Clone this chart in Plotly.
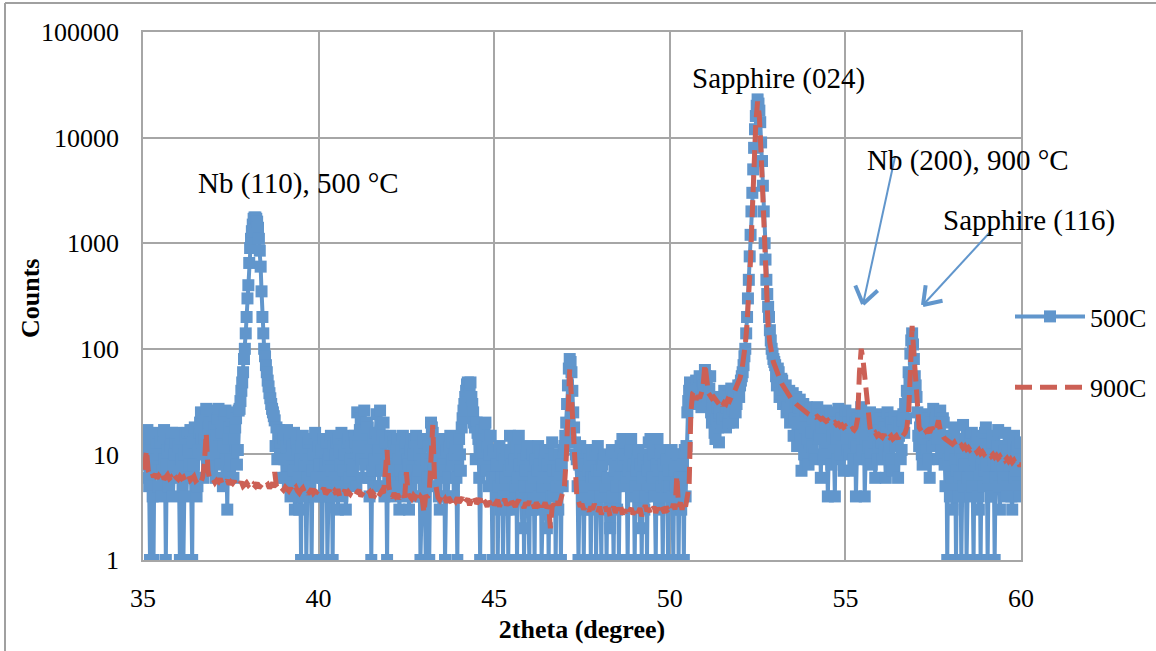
import numpy as np
import plotly.graph_objects as go

# 500C scan: 2theta 35.000 .. 60.000 in 0.025 degree steps
theta_500C = [round(35 + 0.025 * i, 3) for i in range(1001)]
# 900C scan: 2theta 35.00 .. 60.00 in 0.05 degree steps
theta_900C = [round(35 + 0.05 * i, 2) for i in range(501)]

counts_500C = [
    # 35
    8, 12, 15, 6, 12, 17, 10, 5, 1, 9, 14, 4, 1, 11, 9, 13, 16, 7, 5, 10,
    13, 4, 7, 15, 17, 9, 1, 8, 11, 5, 6, 12, 14, 16, 4, 8, 10, 13, 16, 6,
    # 36
    12, 7, 1, 14, 9, 5, 1, 10, 15, 4, 6, 16, 11, 8, 17, 6, 1, 13, 8, 18,
    13, 4, 5, 11, 16, 20, 25, 14, 10, 6, 14, 24, 27, 12, 7, 18, 20, 8, 12, 26,
    # 37
    10, 18, 24, 6, 15, 22, 27, 12, 8, 16, 20, 5, 12, 24, 26, 9, 3, 14, 18, 7,
    9, 21, 25, 6, 14, 18, 22, 8, 11, 26, 27, 32, 40, 48, 60, 80, 100, 140, 200, 300,
    # 38
    400, 650, 900, 1100, 1300, 1500, 1700, 1750, 1750, 1700, 1600, 1400, 1100, 850, 600, 350, 200, 140, 100, 85,
    70, 60, 50, 44, 38, 34, 30, 27, 25, 23, 21, 12, 18, 9, 15, 17, 10, 13, 16, 6,
    # 39
    14, 9, 6, 12, 17, 5, 9, 14, 4, 10, 12, 7, 16, 3, 7, 13, 11, 6, 3, 9,
    1, 12, 15, 4, 8, 10, 1, 6, 13, 9, 5, 14, 1, 7, 10, 4, 16, 11, 6, 13,
    # 40
    12, 8, 4, 11, 1, 6, 14, 5, 8, 13, 1, 9, 10, 4, 15, 7, 1, 12, 6, 10,
    13, 5, 3, 14, 11, 8, 16, 4, 7, 10, 12, 3, 5, 13, 14, 6, 9, 12, 15, 7,
    # 41
    8, 15, 13, 5, 25, 12, 10, 17, 22, 9, 6, 15, 26, 8, 12, 20, 18, 6, 4, 11,
    1, 7, 14, 5, 9, 16, 24, 13, 11, 5, 26, 9, 7, 15, 20, 4, 13, 8, 1, 10,
    # 42
    10, 6, 15, 8, 4, 13, 12, 5, 7, 11, 14, 9, 3, 7, 11, 14, 15, 4, 6, 12,
    13, 9, 8, 3, 5, 11, 14, 7, 10, 13, 4, 15, 12, 6, 7, 10, 1, 4, 9, 14,
    # 43
    13, 5, 1, 9, 6, 12, 1, 8, 20, 18, 16, 7, 12, 14, 5, 9, 10, 4, 3, 12,
    14, 6, 8, 13, 1, 7, 11, 4, 6, 12, 15, 8, 9, 13, 4, 10, 12, 6, 1, 9,
    # 44
    14, 10, 7, 18, 22, 26, 30, 35, 40, 46, 48, 44, 45, 48, 35, 30, 25, 20, 18, 9,
    20, 16, 14, 6, 1, 10, 17, 12, 8, 18, 20, 7, 12, 15, 5, 10, 15, 6, 1, 11,
    # 45
    10, 6, 4, 8, 1, 5, 12, 3, 6, 10, 1, 4, 9, 6, 3, 11, 1, 7, 15, 10,
    8, 3, 14, 9, 5, 12, 1, 6, 15, 8, 11, 4, 2, 9, 1, 5, 7, 10, 12, 3,
    # 46
    1, 8, 5, 3, 10, 6, 1, 9, 3, 7, 12, 4, 8, 11, 1, 5, 6, 9, 11, 3,
    2, 8, 1, 6, 9, 4, 13, 7, 4, 10, 1, 5, 7, 3, 10, 6, 1, 8, 5, 11,
    # 47
    12, 15, 20, 30, 45, 65, 80, 75, 60, 40, 25, 18, 13, 10, 9, 5, 1, 8, 12, 6,
    4, 9, 1, 5, 8, 3, 11, 7, 3, 9, 1, 6, 10, 4, 6, 11, 1, 7, 12, 4,
    # 48
    7, 4, 1, 8, 4, 9, 10, 5, 1, 6, 6, 3, 2, 9, 11, 4, 1, 7, 8, 5,
    3, 10, 1, 6, 12, 8, 14, 9, 5, 10, 13, 6, 1, 7, 9, 11, 14, 6, 4, 8,
    # 49
    1, 5, 7, 9, 11, 4, 2, 8, 1, 6, 9, 3, 4, 10, 1, 7, 13, 9, 14, 5,
    6, 10, 12, 4, 1, 8, 14, 7, 3, 11, 10, 5, 1, 8, 6, 4, 9, 5, 1, 7,
    # 50
    5, 9, 11, 4, 1, 7, 8, 5, 3, 10, 1, 6, 10, 3, 6, 8, 1, 11, 4, 12,
    25, 32, 40, 48, 45, 38, 30, 42, 38, 30, 50, 40, 35, 45, 55, 33, 28, 50, 45, 38,
    # 51
    63, 55, 45, 35, 30, 42, 55, 25, 20, 30, 35, 16, 14, 22, 28, 18, 13, 25, 33, 20,
    22, 30, 40, 24, 18, 28, 35, 20, 25, 33, 42, 27, 20, 35, 38, 25, 30, 40, 45, 35,
    # 52
    45, 50, 55, 60, 70, 85, 100, 140, 200, 300, 450, 750, 1200, 2000, 3000, 5000, 8000, 12000, 16000, 20000,
    23000, 21000, 18000, 14000, 9000, 6000, 3500, 2000, 1000, 700, 450, 330, 250, 200, 150, 120, 100, 90, 80, 75,
    # 53
    70, 55, 45, 65, 60, 35, 38, 52, 50, 30, 32, 44, 45, 25, 28, 38, 40, 20, 25, 35,
    38, 15, 22, 30, 35, 12, 20, 28, 33, 15, 7, 24, 30, 10, 18, 26, 28, 14, 8, 25,
    # 54
    27, 16, 12, 22, 25, 10, 9, 20, 28, 14, 15, 24, 6, 18, 24, 9, 11, 20, 26, 13,
    4, 10, 18, 23, 8, 15, 25, 11, 4, 20, 14, 9, 27, 17, 10, 24, 22, 12, 7, 19,
    # 55
    26, 15, 11, 23, 20, 10, 7, 18, 24, 9, 13, 20, 4, 12, 22, 16, 9, 21, 28, 11,
    15, 24, 4, 14, 20, 9, 12, 22, 25, 10, 8, 19, 18, 13, 6, 20, 24, 9, 12, 17,
    # 56
    22, 13, 9, 20, 18, 11, 6, 16, 25, 10, 12, 22, 20, 9, 7, 17, 23, 12, 14, 20,
    6, 15, 19, 9, 11, 21, 24, 16, 30, 22, 40, 35, 60, 50, 90, 120, 140, 110, 80, 55,
    # 57
    45, 35, 25, 15, 12, 18, 20, 10, 8, 14, 18, 24, 11, 16, 22, 9, 6, 20, 16, 12,
    27, 18, 12, 22, 24, 14, 9, 20, 26, 11, 14, 22, 20, 8, 5, 12, 1, 9, 15, 4,
    # 58
    10, 6, 3, 12, 18, 9, 1, 7, 14, 4, 6, 11, 1, 9, 19, 5, 8, 14, 1, 6,
    12, 8, 4, 15, 16, 5, 1, 10, 9, 13, 15, 4, 3, 11, 1, 8, 13, 5, 7, 16,
    # 59
    18, 8, 1, 6, 11, 4, 4, 13, 15, 9, 1, 6, 8, 12, 17, 5, 3, 9, 12, 7,
    6, 11, 16, 5, 4, 10, 14, 8, 9, 4, 3, 12, 15, 6, 7, 11, 12, 5, 4, 13,
    # 60
    9,
]

counts_900C = [
    # 35
    7.2, 8.0, 11, 7.0, 6.4, 6.8, 6.1, 6.5, 5.9, 6.3, 6.0, 6.6, 5.8, 6.2, 6.4, 5.9, 6.1, 5.7, 6.3, 6.0,
    # 36
    5.8, 6.2, 5.9, 6.1, 5.6, 6.0, 6.3, 5.7, 5.9, 6.2, 5.6, 5.8, 6.0, 5.5, 6.1, 8.5, 16, 7.0, 5.8, 5.6,
    # 37
    5.8, 5.4, 5.7, 5.5, 5.9, 5.3, 5.6, 5.4, 5.7, 5.2, 5.5, 5.3, 5.6, 5.1, 5.4, 5.2, 5.5, 5.0, 5.3, 5.4,
    # 38
    5.1, 5.3, 4.9, 5.2, 5.0, 5.4, 4.8, 5.1, 5.3, 4.9, 5.0, 5.2, 4.8, 5.1, 4.9, 6.8, 5.0, 4.7, 5.0, 4.8,
    # 39
    4.6, 4.9, 4.7, 4.5, 4.8, 4.4, 4.7, 4.9, 4.5, 4.3, 4.6, 4.8, 4.4, 4.6, 4.2, 4.5, 4.7, 4.3, 4.5, 4.4,
    # 40
    4.6, 4.3, 4.5, 4.8, 4.2, 4.4, 4.6, 4.1, 4.3, 4.5, 4.2, 4.7, 4.0, 4.4, 4.3, 4.6, 4.1, 4.4, 4.2, 4.5,
    # 41
    4.3, 4.1, 4.4, 4.6, 4.0, 4.3, 4.5, 4.1, 4.2, 4.4, 3.9, 4.3, 4.1, 4.4, 4.0, 4.2, 4.5, 4.3, 7.0, 11,
    # 42
    5.0, 4.1, 3.9, 4.3, 4.0, 4.2, 3.8, 4.1, 4.3, 3.9, 6.8, 4.2, 4.0, 3.8, 4.1, 3.9, 4.2, 3.7, 4.0, 3.8,
    # 43
    2.8, 4.1, 3.9, 4.4, 9, 19, 6, 4.3, 3.9, 3.7, 4.0, 3.6, 3.8, 3.5, 3.9, 3.7, 3.4, 3.8, 3.6, 3.9,
    # 44
    3.5, 3.7, 3.9, 3.4, 3.6, 3.8, 3.3, 3.7, 3.5, 3.9, 3.4, 3.6, 3.8, 3.3, 3.7, 3.5, 3.2, 3.6, 3.4, 3.7,
    # 45
    3.3, 3.5, 3.7, 3.2, 3.6, 3.4, 3.8, 3.3, 3.5, 3.1, 3.6, 3.4, 3.2, 3.5, 3.7, 3.3, 3.4, 3.1, 3.5, 3.3,
    # 46
    3.6, 3.2, 3.4, 3.1, 3.5, 3.3, 3.0, 3.4, 3.2, 3.5, 3.1, 3.3, 2.0, 3.2, 3.4, 3.1, 3.6, 3.3, 3.8, 4.2,
    # 47
    5.0, 9, 25, 64, 35, 14, 6, 4.2, 3.6, 3.2, 3.4, 3.0, 3.3, 3.1, 2.9, 3.2, 3.0, 3.4, 3.1, 2.8,
    # 48
    3.2, 2.7, 3.0, 3.3, 2.9, 3.1, 2.6, 3.0, 3.2, 2.8, 3.1, 2.9, 3.3, 2.7, 3.0, 2.8, 3.2, 2.9, 3.1, 2.7,
    # 49
    3.0, 3.2, 2.8, 3.1, 2.6, 3.0, 3.3, 2.9, 3.1, 2.7, 3.0, 3.2, 2.8, 3.1, 2.9, 3.3, 3.0, 2.8, 3.2, 3.0,
    # 50
    3.1, 2.9, 3.4, 3.0, 6.3, 3.2, 3.5, 3.0, 3.6, 3.2, 4.0, 5.0, 25, 38, 40, 33, 36, 34, 38, 45,
    # 51
    72, 55, 38, 36, 34, 35, 33, 31, 30, 32, 29, 31, 30, 33, 32, 35, 37, 40, 44, 48,
    # 52
    53, 62, 80, 110, 170, 300, 700, 2000, 6000, 14000, 22000, 16000, 7000, 2500, 800, 300, 160, 113, 90, 75,
    # 53
    68, 60, 55, 50, 46, 43, 40, 38, 36, 34, 33, 31, 30, 29, 28, 27, 26.5, 25.5, 25, 24,
    # 54
    23.5, 24, 23, 22.5, 23, 22, 21.5, 22, 21, 20.5, 21, 20, 20.5, 19.5, 20, 19, 19.5, 18.5, 19, 18,
    # 55
    18.5, 17.5, 18, 17, 17.5, 17, 18, 22, 60, 100, 80, 55, 35, 24, 18, 16, 15.5, 16, 15, 15.5,
    # 56
    15, 14.5, 15.5, 14, 15, 14.5, 15, 14, 14.5, 15, 14, 15.5, 14.5, 15, 16, 18, 25, 60, 165, 90,
    # 57
    45, 22, 18, 17, 16, 17.5, 16.5, 17, 16, 18, 17, 16, 18, 21, 17, 15, 14.5, 14, 13.5, 13,
    # 58
    13, 12.5, 13, 12, 12.5, 11.8, 12.2, 11.5, 12, 11.2, 11.6, 11, 11.4, 10.8, 11.2, 10.5, 11, 10.2, 10.6, 10,
    # 59
    10.4, 9.8, 10.1, 9.6, 10, 9.4, 9.8, 9.2, 9.6, 9.0, 9.4, 8.8, 9.2, 8.6, 9.0, 8.4, 8.8, 8.2, 8.6, 8.0,
    # 60
    8,
]

assert len(counts_500C) == len(theta_500C), len(counts_500C)
assert len(counts_900C) == len(theta_900C), len(counts_900C)

y_tick_values = [1, 10, 100, 1000, 10000, 100000]
y_tick_labels = ["1", "10", "100", "1000", "10000", "100000"]
x_tick_values = [35, 40, 45, 50, 55, 60]

BLUE = "#6196CC"
RED = "#CC6055"
FONT = "Liberation Serif, Times New Roman, serif"

fig = go.Figure()
fig.add_trace(go.Scatter(
    x=theta_500C, y=counts_500C, name="500C", mode="lines+markers",
    line=dict(color=BLUE, width=4),
    marker=dict(symbol="square", size=12, color=BLUE),
    legendgroup="a",
))
fig.add_trace(go.Scatter(
    x=theta_900C, y=counts_900C, name="900C", mode="lines",
    line=dict(color=RED, width=5, dash="17px,8px"),
    legendgroup="b",
))

# plot-area pixel geometry
L, R, T, B = 143, 1021, 32, 560
W, H = R - L, B - T


def px(xp):
    return (xp - L) / W


def py(yp):
    return (B - yp) / H


shapes = []
# outer frame (left and top edges)
shapes.append(dict(type="line", xref="paper", yref="paper", x0=px(5), x1=px(5),
                   y0=py(3), y1=py(651), line=dict(color="#A0A0A0", width=2)))
shapes.append(dict(type="line", xref="paper", yref="paper", x0=px(5), x1=px(1156),
                   y0=py(3), y1=py(3), line=dict(color="#A0A0A0", width=2)))

# arrows with open V heads
arrows = [((895, 157), (863, 304)), ((992, 230), (923, 305))]
for (tx, ty), (hx, hy) in arrows:
    shapes.append(dict(type="line", xref="paper", yref="paper",
                       x0=px(tx), y0=py(ty), x1=px(hx), y1=py(hy),
                       line=dict(color=BLUE, width=2)))
    d = np.array([tx - hx, ty - hy], dtype=float)
    d /= np.linalg.norm(d)
    for ang in (np.radians(35), -np.radians(35)):
        rot = np.array([[np.cos(ang), -np.sin(ang)], [np.sin(ang), np.cos(ang)]])
        w = rot @ d * 20
        shapes.append(dict(type="line", xref="paper", yref="paper",
                           x0=px(hx), y0=py(hy), x1=px(hx + w[0]), y1=py(hy + w[1]),
                           line=dict(color=BLUE, width=4)))

labels = [
    ("Nb (110), 500 °C", 298, 183),
    ("Sapphire (024)", 778, 78),
    ("Nb (200), 900 °C", 968, 160),
    ("Sapphire (116)", 1029, 220),
]
annotations = []
for text, cx, cy in labels:
    annotations.append(dict(text=text, xref="paper", yref="paper", x=px(cx), y=py(cy),
                            xanchor="center", yanchor="middle", showarrow=False,
                            font=dict(family=FONT, size=29, color="black")))
# y-axis title
annotations.append(dict(text="<b>Counts</b>", xref="paper", yref="paper", x=px(30), y=py(298),
                        xanchor="center", yanchor="middle", showarrow=False, textangle=-90,
                        font=dict(family=FONT, size=26, color="black")))

fig.update_layout(
    width=1156, height=651,
    margin=dict(l=L, r=1156 - R, t=T, b=651 - B, autoexpand=False),
    paper_bgcolor="white", plot_bgcolor="white",
    font=dict(family=FONT, size=26, color="black"),
    shapes=shapes, annotations=annotations,
    showlegend=True,
    legend=dict(x=px(1010), y=py(293), xanchor="left", yanchor="top",
                font=dict(family=FONT, size=26, color="black"),
                tracegroupgap=34, itemwidth=70, bgcolor="rgba(0,0,0,0)"),
)
fig.update_xaxes(
    range=[35, 60], tickvals=x_tick_values, ticks="", showgrid=True,
    gridcolor="#A6A6A6", gridwidth=1.5, showline=True, linecolor="#A6A6A6",
    linewidth=1.5, mirror=True, zeroline=False,
    tickfont=dict(family=FONT, size=26), ticklabelstandoff=14,
    title=dict(text="<b>2theta (degree)</b>", font=dict(family=FONT, size=26), standoff=8),
)
fig.update_yaxes(
    type="log", range=[0, 5], tickvals=y_tick_values, ticktext=y_tick_labels,
    ticks="", showgrid=True, gridcolor="#A6A6A6", gridwidth=1.5, showline=True,
    linecolor="#A6A6A6", linewidth=1.5, mirror=True, zeroline=False,
    tickfont=dict(family=FONT, size=26), ticklabelstandoff=17,
)

fig.write_html("out.html", config={"displayModeBar": False},
               post_script="document.body.style.margin='0px';")
